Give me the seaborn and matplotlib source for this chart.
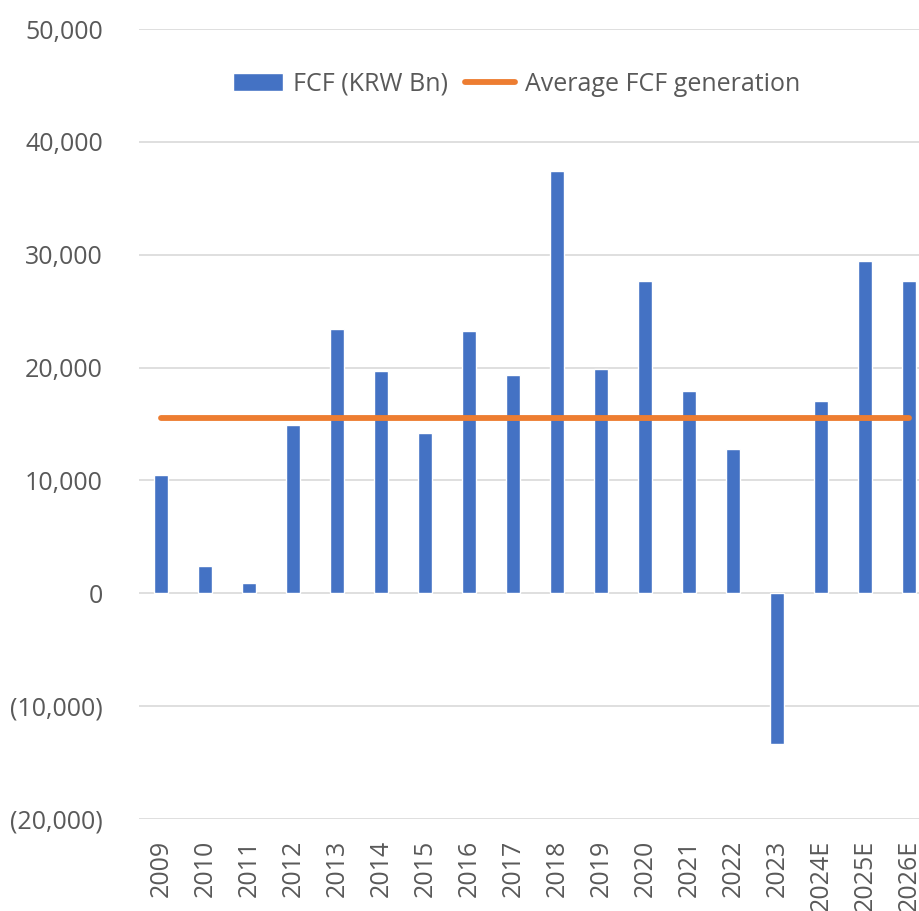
import numpy as np
import pandas as pd
import matplotlib.pyplot as plt
import seaborn as sns
from matplotlib.ticker import FuncFormatter

years = ["2009", "2010", "2011", "2012", "2013", "2014", "2015", "2016", "2017",
         "2018", "2019", "2020", "2021", "2022", "2023", "2024E", "2025E", "2026E"]
fcf = [10500, 2400, 950, 14900, 23400, 19700, 14200, 23250, 19350,
       37400, 19900, 27700, 17950, 12800, -13350, 17050, 29450, 27700]
avg_fcf = 15550

df = pd.DataFrame({"year": years, "fcf": fcf})

sns.set_style("white")
plt.rcParams["font.family"] = ["Open Sans", "DejaVu Sans"]
txt = "#595959"

fig = plt.figure(figsize=(9.19, 9.11), dpi=100)
ax = fig.add_axes([139 / 919, 92 / 911, 792 / 919, 790 / 911])

sns.barplot(data=df, x="year", y="fcf", color="#4472C4", width=0.32,
            saturation=1, label="FCF (KRW Bn)", ax=ax, zorder=3)
ax.plot(np.arange(len(years)), [avg_fcf] * len(years), color="#ED7D31", lw=4.2,
        solid_capstyle="round", label="Average FCF generation", zorder=4)

ax.set_xlim(-0.5, len(years) - 0.5)
ax.set_ylim(-20000, 50000)
ax.set_yticks(np.arange(-20000, 50001, 10000))
ax.yaxis.set_major_formatter(FuncFormatter(
    lambda v, p: f"({abs(v):,.0f})" if v < 0 else f"{v:,.0f}"))
ax.grid(axis="y", color="#d9d9d9", lw=1.2, zorder=0)
ax.set_axisbelow(True)
for s in ax.spines.values():
    s.set_visible(False)

ax.tick_params(axis="y", length=0, pad=26, labelsize=18, labelcolor=txt)
ax.tick_params(axis="x", length=0, pad=15, labelsize=18, labelcolor=txt, rotation=90)
ax.set_xlabel("")
ax.set_ylabel("")

handles, labels = ax.get_legend_handles_labels()
order = [labels.index("FCF (KRW Bn)"), labels.index("Average FCF generation")]
leg = ax.legend([handles[i] for i in order], [labels[i] for i in order],
                loc="center", bbox_to_anchor=(0.477, 0.93), ncol=2, frameon=False,
                fontsize=18, handlelength=2.0, handletextpad=0.4, columnspacing=0.7)
for t in leg.get_texts():
    t.set_color(txt)

fig.savefig("out.png", dpi=100)
